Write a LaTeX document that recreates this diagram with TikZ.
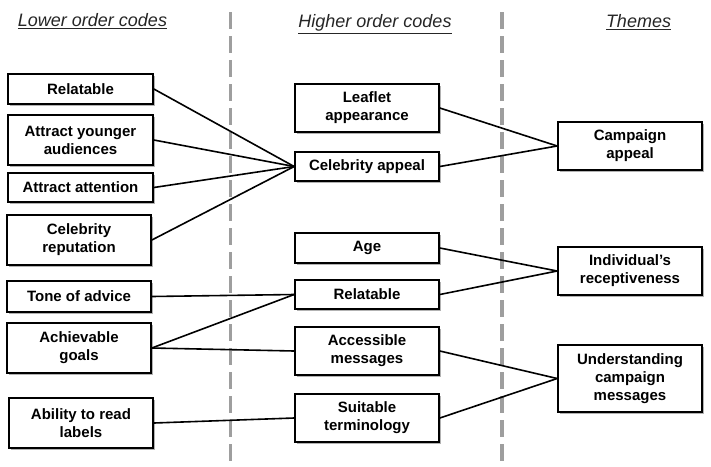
\documentclass[tikz,border=0pt]{standalone}
\usepackage{fontspec}
\setmainfont{Liberation Sans}
\usetikzlibrary{shadows}
\begin{document}
\begin{tikzpicture}[x=1pt,y=-1pt,
  box/.style={draw=black, line width=1.7pt, fill=white, align=center, inner sep=0pt,
    font=\fontsize{15}{18}\selectfont\bfseries,
    drop shadow={shadow xshift=1.6pt, shadow yshift=-1.6pt, opacity=0.3, fill=black}},
  lcol/.style={box, minimum width=145pt},
  mcol/.style={box, minimum width=144pt},
  tcol/.style={box, minimum width=144pt},
  head/.style={font=\fontsize{18}{21}\selectfont\itshape, text=black!85, inner sep=0pt},
  link/.style={line width=1.6pt, black},
  divider/.style={line width=3.5pt, black!38, dash pattern=on 17pt off 7pt}]
\useasboundingbox (0,0) rectangle (711,466);
\fill[white] (0,0) rectangle (711,466);
% dividers
\coordinate (d1t) at (230.5,12);
\coordinate (d1b) at (230.5,462);
\coordinate (d2t) at (502,12);
\coordinate (d2b) at (502,462);
\draw[divider] (d1t) -- (d1b);
\draw[divider] (d2t) -- (d2b);
% headers
\node[head] (h1) at (92.5,21) {\underline{Lower order codes}};
\node[head] (h2) at (375,24) {\underline{Higher order codes}};
\node[head] (h3) at (638.5,22) {\underline{Themes}};
% lower order codes
\node[lcol, minimum height=30pt] (l1) at (80.5,89) {Relatable};
\node[lcol, minimum height=50pt] (l2) at (80.5,140) {Attract younger\\audiences};
\node[lcol, minimum height=29pt] (l3) at (80.5,187.5) {Attract attention};
\node[lcol, minimum width=144pt, minimum height=50pt] (l4) at (79,240) {Celebrity\\reputation};
\node[lcol, minimum width=144pt, minimum height=31pt] (l5) at (79,296.5) {Tone of advice};
\node[lcol, minimum width=144pt, minimum height=50pt] (l6) at (79,348) {Achievable\\goals};
\node[lcol, minimum width=144pt, minimum height=50pt] (l7) at (81,423) {Ability to read\\labels};
% higher order codes
\node[mcol, minimum height=48pt] (m1) at (367,108) {Leaflet\\appearance};
\node[mcol, minimum height=29pt] (m2) at (367,166.5) {Celebrity appeal};
\node[mcol, minimum height=30pt] (m3) at (367,248) {Age};
\node[mcol, minimum height=29pt] (m4) at (367,294.5) {Relatable};
\node[mcol, minimum height=48pt] (m5) at (367,351) {Accessible\\messages};
\node[mcol, minimum height=48pt] (m6) at (367,418) {Suitable\\terminology};
% themes
\node[tcol, minimum height=48pt] (t1) at (630,146) {Campaign\\appeal};
\node[tcol, minimum height=48pt] (t2) at (630,271) {Individual’s\\receptiveness};
\node[tcol, minimum height=67pt] (t3) at (630,378.5) {Understanding\\campaign\\messages};
% connectors
\draw[link] (l1.east) -- (m2.west);
\draw[link] (l2.east) -- (m2.west);
\draw[link] (l3.east) -- (m2.west);
\draw[link] (l4.east) -- (m2.west);
\draw[link] (l5.east) -- (m4.west);
\draw[link] (l6.east) -- (m4.west);
\draw[link] (l6.east) -- (m5.west);
\draw[link] (l7.east) -- (m6.west);
\draw[link] (m1.east) -- (t1.west);
\draw[link] (m2.east) -- (t1.west);
\draw[link] (m3.east) -- (t2.west);
\draw[link] (m4.east) -- (t2.west);
\draw[link] (m5.east) -- (t3.west);
\draw[link] (m6.east) -- (t3.west);
\end{tikzpicture}
\end{document}
